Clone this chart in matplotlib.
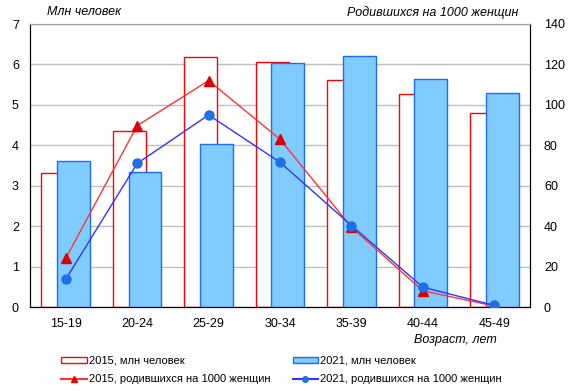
import numpy as np
import matplotlib
matplotlib.use("Agg")
from matplotlib import pyplot as plt
from matplotlib.patches import Patch
from matplotlib.lines import Line2D

plt.rcParams['font.family'] = ['Liberation Sans', 'DejaVu Sans']

# данные
ages = ['15-19', '20-24', '25-29', '30-34', '35-39', '40-44', '45-49']
mln_2015 = [3.31, 4.35, 6.18, 6.07, 5.61, 5.26, 4.79]
mln_2021 = [3.60, 3.33, 4.03, 6.03, 6.20, 5.64, 5.29]
rate_2015 = [24.0, 89.7, 112.0, 83.0, 39.5, 8.0, 0.5]
rate_2021 = [13.7, 71.0, 95.0, 71.6, 40.3, 9.8, 0.8]

x = np.arange(len(ages))
w = 0.46
fs = 9

fig = plt.figure(figsize=(5.72, 3.91), dpi=100)
ax = fig.add_axes([30 / 572, 1 - 307 / 391, 500 / 572, 283 / 391])

ax.bar(x - 0.11, mln_2015, w, facecolor='white', edgecolor='#ff0000', linewidth=1, zorder=2)
ax.bar(x + 0.11, mln_2021, w, facecolor='#80ccff', edgecolor='#1a6cff', linewidth=1, zorder=3)

ax.set_xlim(-0.5, len(ages) - 0.5)
ax.set_ylim(0, 7)
ax.set_yticks(range(0, 8))
ax.set_xticks(x)
ax.set_xticklabels(ages)
ax.yaxis.grid(True, color='#c0c0c0', linewidth=1, zorder=0)
ax.set_axisbelow(True)
ax.tick_params(length=0, labelsize=fs, pad=8)
ax.tick_params(axis='x', pad=8)
ax.spines['top'].set_color('#a0a0a0')
for s in ['left', 'bottom', 'right']:
    ax.spines[s].set_color('black')

ax2 = ax.twinx()
ax2.plot(x, rate_2015, color='#ff3333', linewidth=1, marker='^', markersize=7,
         markerfacecolor='#dd0000', markeredgecolor='#dd0000', zorder=4)
ax2.plot(x, rate_2021, color='#3333ff', linewidth=1, marker='o', markersize=6.5,
         markerfacecolor='#1f6fe8', markeredgecolor='#1f6fe8', zorder=5)
ax2.set_ylim(0, 140)
ax2.set_yticks(range(0, 141, 20))
ax2.tick_params(length=0, labelsize=fs, pad=10)
ax2.spines['top'].set_color('#a0a0a0')

fig.text(47 / 572, 1 - 12 / 391, 'Млн человек', style='italic', fontsize=fs, va='center', ha='left')
fig.text(518 / 572, 1 - 13 / 391, 'Родившихся на 1000 женщин', style='italic', fontsize=fs, va='center', ha='right')
fig.text(497 / 572, 1 - 340 / 391, 'Возраст, лет', style='italic', fontsize=fs, va='center', ha='right')

p15 = Patch(facecolor='white', edgecolor='#ff0000')
p21 = Patch(facecolor='#80ccff', edgecolor='#1a6cff')
l15 = Line2D([], [], color='#ff3333', marker='^', markersize=4, markerfacecolor='#dd0000', markeredgecolor='#dd0000')
l21 = Line2D([], [], color='#3333ff', marker='o', markersize=4, markerfacecolor='#1f6fe8', markeredgecolor='#1f6fe8')
handles = [p15, l15, p21, l21]
labels = ['2015, млн человек', '2015, родившихся на 1000 женщин',
          '2021, млн человек', '2021, родившихся на 1000 женщин']
fig.legend(handles, labels, ncol=2, loc='center left', bbox_to_anchor=(51 / 572, 1 - 370 / 391),
           frameon=False, fontsize=8, handlelength=2.3, handleheight=0.55,
           columnspacing=2.0, handletextpad=0.2, labelspacing=0.75)

plt.savefig('out.png', dpi=100)
